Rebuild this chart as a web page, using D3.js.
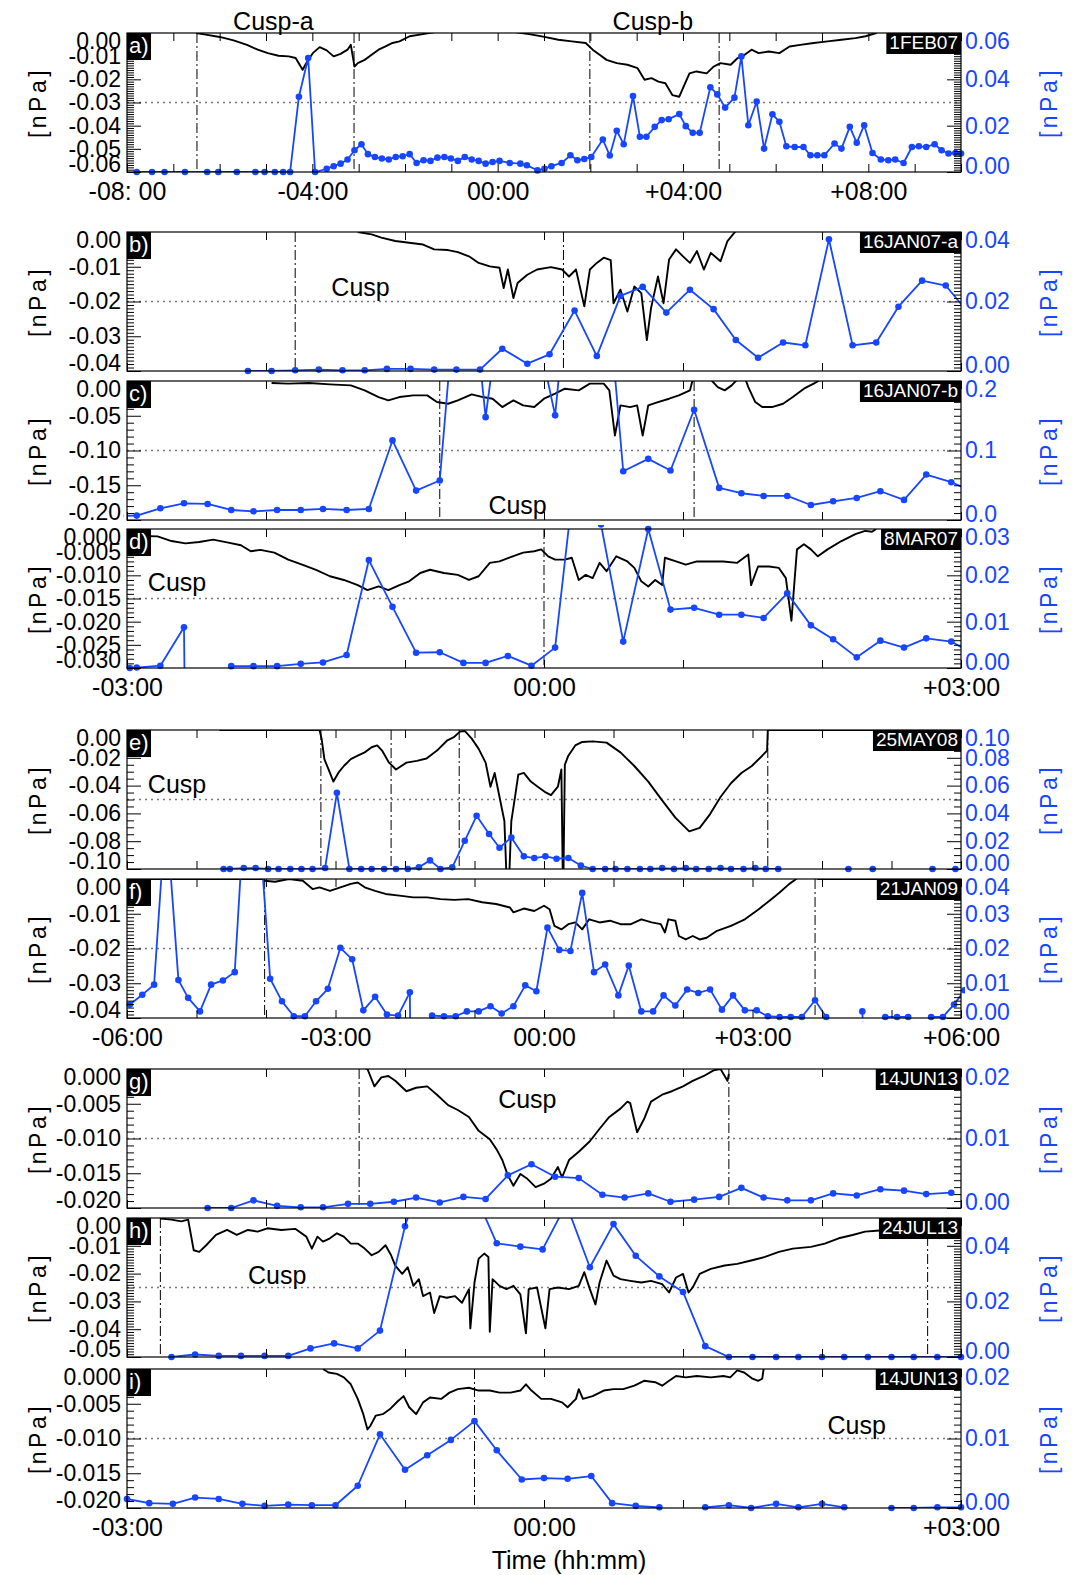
<!DOCTYPE html>
<html>
<head>
<meta charset="utf-8">
<script src="https://cdn.jsdelivr.net/npm/d3@7"></script>
<style>
  body { margin: 0; background: #fff; }
  svg { display: block; font-family: "Liberation Sans", Arial, Helvetica, sans-serif; }
</style>
</head>
<body>
<svg id="chart" width="1081" height="1575"></svg>
<script>
// [time in hours, value in nPa]; null = data gap
var aBlue = [[-7.79,0],[-7.46,0],[-7.19,0],[-6.75,0],[-6.27,0],[-6.03,0],[-5.63,0],[-5.23,0],[-5.03,0],[-4.81,0],[-4.63,0],[-4.48,0],[-4.29,0.0325],[-4.09,0.0492],[-3.94,0],[-3.69,0.0014],[-3.54,0.0025],[-3.39,0.0036],[-3.24,0.0054],[-3.09,0.0094],[-2.94,0.0120],[-2.80,0.0077],[-2.65,0.0065],[-2.50,0.0058],[-2.35,0.0054],[-2.20,0.0065],[-2.05,0.0068],[-1.90,0.0077],[-1.75,0.0039],[-1.60,0.0051],[-1.45,0.0048],[-1.30,0.0062],[-1.15,0.0065],[-1.01,0.0058],[-0.86,0.0048],[-0.71,0.0065],[-0.56,0.0054],[-0.41,0.0048],[-0.26,0.0036],[-0.11,0.0043],[0.04,0.0048],[0.26,0.0039],[0.49,0.0036],[0.63,0.0029],[0.86,0.0007],[1.01,0.0014],[1.16,0.0025],[1.38,0.0039],[1.57,0.0072],[1.72,0.0051],[1.87,0.0056],[2.02,0.0065],[2.27,0.0140],[2.42,0.0071],[2.57,0.0178],[2.72,0.0120],[2.92,0.0328],[3.07,0.0152],[3.21,0.0152],[3.39,0.0195],[3.54,0.0224],[3.69,0.0228],[3.92,0.0250],[4.06,0.0198],[4.21,0.0169],[4.36,0.0169],[4.59,0.0366],[4.74,0.0335],[4.91,0.0278],[5.11,0.0321],[5.26,0.0499],[5.41,0.0202],[5.59,0.0304],[5.75,0.0101],[5.93,0.0249],[6.08,0.0217],[6.23,0.0111],[6.41,0.0108],[6.60,0.0108],[6.75,0.0072],[6.90,0.0072],[7.05,0.0072],[7.27,0.0123],[7.42,0.0101],[7.60,0.0195],[7.75,0.0126],[7.91,0.0202],[8.09,0.0082],[8.27,0.0054],[8.43,0.0051],[8.58,0.0054],[8.76,0.0039],[8.94,0.0108],[9.09,0.0111],[9.25,0.0108],[9.43,0.0120],[9.58,0.0094],[9.73,0.0080],[9.88,0.0082],[10.0,0.0080]];
var aBlack = [[-6.51,0],[-6.30,-0.0007],[-6.00,-0.0017],[-5.70,-0.0032],[-5.41,-0.0051],[-5.18,-0.0072],[-4.96,-0.0087],[-4.73,-0.0098],[-4.51,-0.0101],[-4.36,-0.0108],[-4.21,-0.0159],[-4.11,-0.0123],[-3.99,-0.0087],[-3.84,-0.0061],[-3.69,-0.0075],[-3.54,-0.0101],[-3.39,-0.0090],[-3.24,-0.0072],[-3.17,-0.0051],[-3.09,-0.0145],[-3.02,-0.0130],[-2.87,-0.0116],[-2.72,-0.0094],[-2.57,-0.0072],[-2.42,-0.0058],[-2.27,-0.0043],[-2.12,-0.0036],[-1.90,-0.0014],[-1.68,-0.0007],[-1.38,0.0003],[-1.20,0.002],[0.20,0.002],[0.41,0.0003],[0.71,-0.0006],[1.01,-0.0017],[1.31,-0.0029],[1.60,-0.0036],[1.90,-0.0043],[2.05,-0.0072],[2.20,-0.0094],[2.35,-0.0116],[2.57,-0.0130],[2.80,-0.0137],[3.02,-0.0152],[3.17,-0.0202],[3.32,-0.0195],[3.47,-0.0210],[3.62,-0.0217],[3.77,-0.0268],[3.92,-0.0275],[4.03,-0.0224],[4.14,-0.0174],[4.29,-0.0166],[4.51,-0.0174],[4.66,-0.0145],[4.81,-0.0130],[5.03,-0.0137],[5.18,-0.0108],[5.33,-0.0094],[5.48,-0.0072],[5.63,-0.0087],[5.85,-0.0080],[6.08,-0.0087],[6.30,-0.0058],[6.53,-0.0051],[6.82,-0.0043],[7.12,-0.0036],[7.42,-0.0029],[7.72,-0.0022],[7.94,-0.0014],[8.17,0],[8.25,0.001]];
var aEvents = [-6.49, -3.10, 1.99, 4.78];

var bBlue = [[-2.13,0],[-1.96,0],[-1.79,0.0002],[-1.62,0.0004],[-1.45,0.0002],[-1.29,0.0002],[-1.13,0.0006],[-0.96,0.0006],[-0.79,0.0004],[-0.63,0.0004],[-0.46,0.0004],[-0.30,0.0064],[-0.12,0.0021],[0.04,0.0048],[0.22,0.0174],[0.38,0.0043],[0.55,0.0216],[0.71,0.0242],[0.88,0.0168],[1.05,0.0234],[1.22,0.0178],[1.38,0.0089],[1.54,0.0038],[1.72,0.0082],[1.88,0.0074],[2.05,0.0379],[2.22,0.0074],[2.39,0.0082],[2.55,0.0185],[2.72,0.0260],[2.89,0.0246],[3.06,0.0164]];
var bBlack = [[-1.34,0],[-1.24,-0.0007],[-1.17,-0.0016],[-1.07,-0.0026],[-0.97,-0.0031],[-0.87,-0.0036],[-0.79,-0.0050],[-0.69,-0.0052],[-0.62,-0.0058],[-0.54,-0.0070],[-0.47,-0.0089],[-0.39,-0.0099],[-0.32,-0.0103],[-0.29,-0.0161],[-0.26,-0.0108],[-0.22,-0.0190],[-0.19,-0.0147],[-0.12,-0.0123],[-0.05,-0.0108],[0.05,-0.0101],[0.13,-0.0108],[0.18,-0.0128],[0.23,-0.0108],[0.29,-0.0214],[0.33,-0.0108],[0.38,-0.0089],[0.43,-0.0074],[0.48,-0.0081],[0.50,-0.0205],[0.55,-0.0166],[0.60,-0.0229],[0.65,-0.0157],[0.70,-0.0176],[0.74,-0.0311],[0.77,-0.0219],[0.82,-0.0128],[0.86,-0.0205],[0.90,-0.0079],[0.95,-0.0050],[1.00,-0.0070],[1.05,-0.0089],[1.10,-0.0055],[1.15,-0.0108],[1.20,-0.0060],[1.27,-0.0084],[1.32,-0.0026],[1.37,-0.0002],[1.39,0.0008]];
var bEvents = [-1.79, 0.14];

var cBlue = [[-3.05,0.0060],[-2.93,0.0063],[-2.76,0.0168],[-2.59,0.0240],[-2.42,0.0231],[-2.25,0.0144],[-2.09,0.0125],[-1.92,0.0144],[-1.75,0.0144],[-1.59,0.0159],[-1.42,0.0144],[-1.26,0.0159],[-1.09,0.1145],[-0.92,0.0423],[-0.75,0.0568],[-0.58,0.46],[-0.42,0.148],[-0.26,0.39],[-0.09,0.31],[0.08,0.1506],[0.24,0.48],[0.41,0.44],[0.57,0.0702],[0.75,0.0880],[0.91,0.0712],[1.08,0.1587],[1.26,0.0462],[1.42,0.0385],[1.58,0.0346],[1.75,0.0346],[1.92,0.0216],[2.08,0.0269],[2.25,0.0317],[2.42,0.0414],[2.59,0.0289],[2.75,0.0654],[2.93,0.0544],[3.09,0.040]];
var cBlack = [[-1.96,-0.0029],[-1.84,-0.0038],[-1.69,-0.0029],[-1.54,-0.0048],[-1.39,-0.0063],[-1.29,-0.0135],[-1.19,-0.0231],[-1.12,-0.0279],[-1.04,-0.0231],[-0.94,-0.0207],[-0.84,-0.0207],[-0.77,-0.0303],[-0.69,-0.0327],[-0.62,-0.0279],[-0.52,-0.0192],[-0.44,-0.0231],[-0.37,-0.0255],[-0.30,-0.0375],[-0.22,-0.0279],[-0.15,-0.0351],[-0.07,-0.0375],[0.00,-0.0255],[0.08,-0.0183],[0.15,-0.0111],[0.25,-0.0135],[0.33,-0.0038],[0.43,-0.0038],[0.47,-0.0135],[0.51,-0.0784],[0.55,-0.0351],[0.62,-0.0375],[0.67,-0.0351],[0.71,-0.0784],[0.75,-0.0351],[0.82,-0.0303],[0.90,-0.0255],[0.97,-0.0207],[1.05,-0.0135],[1.07,0.002],[1.20,0.002],[1.25,-0.0087],[1.30,-0.0135],[1.35,-0.0063],[1.39,0.002],[1.45,0.002],[1.47,-0.0087],[1.52,-0.0303],[1.57,-0.0375],[1.64,-0.0375],[1.72,-0.0327],[1.79,-0.0231],[1.87,-0.0111],[1.94,-0.0038],[1.99,0.002]];
var cEvents = [-0.75, 1.08];

var dBlue = [[-2.98,0],[-2.93,0.0001],[-2.76,0.0005],[-2.59,0.0088],[-2.585,-0.005],[-2.4,null],[-2.25,0.0004],[-2.09,0.0004],[-1.92,0.0004],[-1.75,0.0009],[-1.59,0.0012],[-1.42,0.0028],[-1.26,0.0233],[-1.09,0.0132],[-0.92,0.0033],[-0.75,0.0034],[-0.58,0.0011],[-0.42,0.0011],[-0.26,0.0026],[-0.09,0.0005],[0.08,0.0044],[0.24,0.0467],[0.41,0.031],[0.57,0.0057],[0.75,0.030],[0.91,0.0126],[1.08,0.0130],[1.26,0.0115],[1.42,0.0115],[1.58,0.0108],[1.75,0.0161],[1.92,0.0092],[2.08,0.0062],[2.25,0.0023],[2.42,0.0059],[2.59,0.0044],[2.75,0.0064],[2.93,0.0057],[3.09,0.0030]];
var dBlack = [[-2.98,-0.0011],[-2.88,-0.0015],[-2.78,-0.0016],[-2.68,-0.0026],[-2.58,-0.0031],[-2.48,-0.0028],[-2.38,-0.0023],[-2.28,-0.0029],[-2.18,-0.0035],[-2.11,-0.0048],[-2.04,-0.0045],[-1.94,-0.0051],[-1.84,-0.0066],[-1.74,-0.0077],[-1.64,-0.0088],[-1.54,-0.0102],[-1.44,-0.0110],[-1.34,-0.0121],[-1.27,-0.0132],[-1.19,-0.0124],[-1.12,-0.0132],[-1.04,-0.0121],[-0.97,-0.0113],[-0.89,-0.0095],[-0.82,-0.0088],[-0.72,-0.0095],[-0.62,-0.0099],[-0.54,-0.0110],[-0.47,-0.0102],[-0.39,-0.0073],[-0.32,-0.0070],[-0.25,-0.0062],[-0.15,-0.0051],[-0.07,-0.0048],[-0.02,-0.0044],[0.03,-0.0059],[0.08,-0.0066],[0.15,-0.0066],[0.20,-0.0062],[0.25,-0.0110],[0.30,-0.0099],[0.35,-0.0106],[0.40,-0.0073],[0.45,-0.0091],[0.52,-0.0059],[0.60,-0.0070],[0.65,-0.0084],[0.70,-0.0113],[0.75,-0.0124],[0.80,-0.0110],[0.85,-0.0121],[0.87,-0.0062],[0.95,-0.0070],[1.02,-0.0077],[1.10,-0.0070],[1.20,-0.0070],[1.29,-0.0070],[1.39,-0.0073],[1.47,-0.0055],[1.49,-0.0121],[1.54,-0.0081],[1.62,-0.0081],[1.69,-0.0084],[1.74,-0.0106],[1.78,-0.0198],[1.82,-0.0044],[1.87,-0.0033],[1.92,-0.0044],[1.97,-0.0059],[2.04,-0.0044],[2.14,-0.0026],[2.24,-0.0011],[2.31,-0.0004],[2.36,-0.0006],[2.39,0]];
var dEvents = [0.0];

var eBlue = [[-4.61,0],[-4.52,0],[-4.32,0.0007],[-4.15,0.0007],[-3.97,0],[-3.82,0],[-3.65,0],[-3.49,0],[-3.33,0],[-3.15,0.0007],[-2.98,0.0548],[-2.80,0],[-2.63,0],[-2.48,0],[-2.30,0],[-2.13,0],[-1.96,0],[-1.80,0.0012],[-1.64,0.0062],[-1.49,0],[-1.32,0.0012],[-1.14,0.0203],[-0.97,0.0383],[-0.79,0.0252],[-0.64,0.0153],[-0.47,0.0227],[-0.29,0.0091],[-0.14,0.0079],[0.02,0.0091],[0.18,0.0074],[0.35,0.0079],[0.53,0.0025],[0.70,0],[0.88,0],[1.03,0],[1.20,0],[1.38,0],[1.53,0],[1.70,0.0007],[1.87,0],[2.04,0.0007],[2.19,0],[2.37,0],[2.54,0.0007],[2.69,0],[2.87,0],[3.04,0.0007],[3.19,0],[3.37,0],[3.6,null],[4.38,0],[4.5,null],[4.73,0],[5.0,null],[5.59,0],[5.75,null],[5.92,0]];
var eBlack = [[-4.67,0],[-3.23,0],[-3.20,-0.0062],[-3.16,-0.0210],[-3.10,-0.0284],[-3.03,-0.0371],[-2.96,-0.0309],[-2.88,-0.0259],[-2.78,-0.0210],[-2.68,-0.0185],[-2.58,-0.0161],[-2.48,-0.0124],[-2.40,-0.0111],[-2.33,-0.0148],[-2.23,-0.0235],[-2.13,-0.0284],[-1.98,-0.0235],[-1.83,-0.0222],[-1.69,-0.0205],[-1.54,-0.0148],[-1.39,-0.0074],[-1.29,-0.0049],[-1.21,-0.0012],[-1.14,-0.0007],[-1.04,-0.0062],[-0.94,-0.0136],[-0.84,-0.0235],[-0.77,-0.0408],[-0.71,-0.0309],[-0.64,-0.0482],[-0.57,-0.0655],[-0.54,-0.105],[-0.50,-0.105],[-0.47,-0.0655],[-0.41,-0.0457],[-0.37,-0.0321],[-0.29,-0.0309],[-0.19,-0.0371],[-0.09,-0.0408],[0.01,-0.0445],[0.10,-0.0469],[0.20,-0.0408],[0.25,-0.0284],[0.27,-0.105],[0.28,-0.105],[0.30,-0.0250],[0.35,-0.0185],[0.45,-0.0111],[0.55,-0.0086],[0.70,-0.0082],[0.90,-0.0091],[1.10,-0.0161],[1.30,-0.0259],[1.50,-0.0371],[1.70,-0.0506],[1.89,-0.0630],[2.09,-0.0729],[2.24,-0.0704],[2.39,-0.0605],[2.54,-0.0482],[2.69,-0.0383],[2.84,-0.0309],[2.99,-0.0259],[3.14,-0.0185],[3.21,-0.0148],[3.22,0],[6.0,0]];
var eEvents = [-3.21, -2.20, -1.22, 3.22];

var fBlue = [[-5.96,0.0039],[-5.78,0.0067],[-5.61,0.0096],[-5.44,0.06],[-5.26,0.0109],[-5.12,0.0058],[-4.95,0.0019],[-4.79,0.0096],[-4.62,0.0108],[-4.45,0.0132],[-4.22,0.09],[-3.94,0.0113],[-3.77,0.0048],[-3.60,0.0005],[-3.44,0.0005],[-3.28,0.0048],[-3.11,0.0084],[-2.93,0.0202],[-2.76,0.0169],[-2.60,0.0022],[-2.43,0.0061],[-2.26,0.0010],[-2.10,0.0007],[-1.93,0.0074],[-1.925,-0.005],[-1.8,null],[-1.61,0.0007],[-1.44,0.0005],[-1.27,0.0005],[-1.11,0.0019],[-0.94,0.0019],[-0.77,0.0034],[-0.61,0.0013],[-0.44,0.0034],[-0.27,0.0094],[-0.11,0.0077],[0.05,0.0260],[0.22,0.0196],[0.38,0.0193],[0.55,0.0360],[0.72,0.0132],[0.88,0.0154],[1.07,0.0065],[1.22,0.0151],[1.40,0.0019],[1.57,0.0019],[1.72,0.0065],[1.89,0.0036],[2.06,0.0082],[2.22,0.0072],[2.39,0.0082],[2.56,0.0024],[2.72,0.0065],[2.89,0.0022],[3.06,0.0022],[3.22,0.0005],[3.39,0.0003],[3.55,0.0003],[3.71,0.0003],[3.90,0.0051],[4.06,0.0003],[4.3,null],[4.58,0.0019],[4.59,-0.002],[4.7,null],[4.91,0.0003],[5.08,0.0003],[5.24,0.0003],[5.4,null],[5.57,0.0003],[5.74,0.0003],[5.90,0.0039],[6.05,0.008]];
var fBlack = [[-6.0,0],[-4.03,0],[-4.02,-0.0005],[-3.87,-0.0008],[-3.67,0],[-3.47,-0.0005],[-3.33,-0.0029],[-3.23,-0.0024],[-3.08,-0.0034],[-2.93,-0.0024],[-2.78,-0.0014],[-2.68,-0.0010],[-2.58,-0.0024],[-2.43,-0.0034],[-2.28,-0.0043],[-2.08,-0.0048],[-1.88,-0.0053],[-1.68,-0.0053],[-1.49,-0.0058],[-1.29,-0.0060],[-1.09,-0.0058],[-0.89,-0.0067],[-0.69,-0.0072],[-0.49,-0.0082],[-0.44,-0.0096],[-0.29,-0.0085],[-0.14,-0.0092],[0.00,-0.0077],[0.08,-0.0087],[0.15,-0.0135],[0.25,-0.0145],[0.35,-0.0130],[0.45,-0.0125],[0.55,-0.0145],[0.65,-0.0116],[0.80,-0.0125],[0.95,-0.0120],[1.10,-0.0130],[1.25,-0.0130],[1.40,-0.0116],[1.55,-0.0125],[1.68,-0.0130],[1.74,-0.0154],[1.79,-0.0116],[1.89,-0.0120],[1.94,-0.0164],[2.04,-0.0174],[2.14,-0.0164],[2.24,-0.0174],[2.34,-0.0169],[2.49,-0.0149],[2.69,-0.0135],[2.89,-0.0116],[3.09,-0.0087],[3.24,-0.0063],[3.39,-0.0039],[3.53,-0.0014],[3.63,0],[3.70,0.002],[3.92,0.002],[3.94,0],[6.0,0]];
var fEvents = [-4.02, 3.90];

var gBlue = [[-2.42,0],[-2.25,0],[-2.09,0.0011],[-1.92,0.0003],[-1.75,0.0001],[-1.59,0.0001],[-1.41,0.0006],[-1.25,0.0006],[-1.08,0.0009],[-0.92,0.0015],[-0.75,0.0008],[-0.58,0.0016],[-0.42,0.0013],[-0.26,0.0047],[-0.09,0.0063],[0.08,0.0045],[0.25,0.0043],[0.42,0.0019],[0.58,0.0015],[0.75,0.0021],[0.91,0.0009],[1.08,0.0012],[1.26,0.0016],[1.42,0.0029],[1.58,0.0015],[1.75,0.0011],[1.92,0.0011],[2.08,0.0021],[2.25,0.0018],[2.42,0.0027],[2.59,0.0025],[2.75,0.0020],[2.93,0.0022]];
var gBlack = [[-1.30,0.0002],[-1.27,0],[-1.22,-0.0025],[-1.17,-0.0012],[-1.12,-0.0010],[-1.07,-0.0017],[-0.99,-0.0032],[-0.92,-0.0027],[-0.84,-0.0025],[-0.77,-0.0037],[-0.69,-0.0052],[-0.62,-0.0059],[-0.54,-0.0069],[-0.47,-0.0089],[-0.39,-0.0101],[-0.34,-0.0116],[-0.30,-0.0131],[-0.26,-0.0153],[-0.22,-0.0168],[-0.17,-0.0151],[-0.12,-0.0158],[-0.06,-0.0170],[0.00,-0.0165],[0.05,-0.0158],[0.10,-0.0141],[0.13,-0.0156],[0.18,-0.0131],[0.25,-0.0119],[0.33,-0.0104],[0.40,-0.0086],[0.47,-0.0069],[0.55,-0.0057],[0.60,-0.0047],[0.62,-0.0049],[0.67,-0.0091],[0.72,-0.0072],[0.77,-0.0047],[0.85,-0.0037],[0.92,-0.0032],[1.00,-0.0025],[1.07,-0.0017],[1.15,-0.0010],[1.22,-0.0002],[1.27,0],[1.32,-0.0017],[1.33,-0.0007]];
var gEvents = [-1.33, 1.33];

var hBlue = [[-2.68,0],[-2.51,0.0009],[-2.34,0.0004],[-2.18,0.0004],[-2.01,0.0004],[-1.84,0.0004],[-1.68,0.0031],[-1.51,0.0049],[-1.34,0.0031],[-1.18,0.0095],[-1.00,0.0470],[-0.83,0.073],[-0.67,0.07],[-0.50,0.059],[-0.34,0.0409],[-0.17,0.0397],[-0.01,0.0387],[0.16,0.055],[0.33,0.0323],[0.50,0.0478],[0.66,0.0364],[0.83,0.0290],[1.00,0.0234],[1.16,0.0039],[1.33,0],[1.50,0],[1.67,0],[1.83,0],[2.00,0],[2.16,0],[2.33,0],[2.50,0],[2.66,0],[2.83,0],[3.0,0]];
var hBlack = [[-2.76,-0.0002],[-2.68,-0.0006],[-2.61,-0.0012],[-2.56,-0.0006],[-2.52,-0.0116],[-2.48,-0.0122],[-2.43,-0.0098],[-2.36,-0.0061],[-2.28,-0.0043],[-2.21,-0.0061],[-2.13,-0.0043],[-2.06,-0.0049],[-1.99,-0.0037],[-1.89,-0.0043],[-1.79,-0.0039],[-1.71,-0.0067],[-1.67,-0.0110],[-1.63,-0.0067],[-1.59,-0.0085],[-1.54,-0.0073],[-1.49,-0.0055],[-1.44,-0.0067],[-1.39,-0.0092],[-1.34,-0.0092],[-1.29,-0.0110],[-1.24,-0.0134],[-1.19,-0.0122],[-1.14,-0.0098],[-1.10,-0.0134],[-1.07,-0.0171],[-1.02,-0.0201],[-0.98,-0.0177],[-0.94,-0.0244],[-0.90,-0.0220],[-0.87,-0.0281],[-0.82,-0.0268],[-0.79,-0.0342],[-0.75,-0.0281],[-0.70,-0.0287],[-0.64,-0.0281],[-0.59,-0.0305],[-0.54,-0.0256],[-0.53,-0.0397],[-0.50,-0.0232],[-0.47,-0.0146],[-0.43,-0.0128],[-0.40,-0.0140],[-0.39,-0.0409],[-0.37,-0.0220],[-0.32,-0.0244],[-0.27,-0.0256],[-0.22,-0.0244],[-0.17,-0.0275],[-0.13,-0.0415],[-0.11,-0.0256],[-0.05,-0.0250],[0.01,-0.0397],[0.04,-0.0256],[0.10,-0.0250],[0.18,-0.0256],[0.25,-0.0244],[0.29,-0.0195],[0.33,-0.0256],[0.37,-0.0311],[0.40,-0.0232],[0.45,-0.0153],[0.50,-0.0207],[0.55,-0.0220],[0.62,-0.0226],[0.70,-0.0232],[0.77,-0.0226],[0.85,-0.0238],[0.90,-0.0268],[0.95,-0.0214],[1.00,-0.0201],[1.04,-0.0268],[1.07,-0.0250],[1.12,-0.0201],[1.20,-0.0183],[1.30,-0.0171],[1.39,-0.0165],[1.49,-0.0153],[1.59,-0.0140],[1.69,-0.0122],[1.79,-0.0110],[1.92,-0.0104],[2.02,-0.0092],[2.12,-0.0073],[2.22,-0.0061],[2.31,-0.0049],[2.39,-0.0046],[2.46,-0.0043]];
var hEvents = [-2.76, 2.76];

var iBlue = [[-3.0,0.0013],[-2.84,0.0007],[-2.67,0.0006],[-2.51,0.0015],[-2.34,0.0013],[-2.17,0.0006],[-2.01,0.0003],[-1.84,0.0005],[-1.67,0.0004],[-1.50,0.0004],[-1.34,0.0032],[-1.18,0.0106],[-1.00,0.0055],[-0.84,0.0076],[-0.67,0.0098],[-0.50,0.0125],[-0.34,0.0083],[-0.16,0.0041],[0.00,0.0043],[0.17,0.0042],[0.34,0.0046],[0.49,0.0007],[0.66,0.0003],[0.83,0.0001],[1.0,null],[1.16,0.0001],[1.33,0.0004],[1.49,0],[1.67,0.0006],[1.83,0.0001],[2.00,0.0006],[2.16,0.0001],[2.33,null],[2.50,0],[2.66,0],[2.83,0.0001],[3.0,0.0001]];
var iBlack = [[-1.59,0],[-1.55,-0.0005],[-1.49,-0.0007],[-1.44,-0.0012],[-1.39,-0.0022],[-1.34,-0.0043],[-1.30,-0.0065],[-1.27,-0.0087],[-1.25,-0.0082],[-1.21,-0.0067],[-1.16,-0.0065],[-1.11,-0.0058],[-1.05,-0.0046],[-1.01,-0.0039],[-0.97,-0.0055],[-0.92,-0.0065],[-0.87,-0.0048],[-0.82,-0.0041],[-0.74,-0.0043],[-0.68,-0.0034],[-0.62,-0.0029],[-0.54,-0.0027],[-0.47,-0.0031],[-0.39,-0.0031],[-0.32,-0.0034],[-0.24,-0.0034],[-0.17,-0.0031],[-0.13,-0.0022],[-0.09,-0.0031],[-0.02,-0.0043],[0.05,-0.0043],[0.13,-0.0048],[0.17,-0.0055],[0.23,-0.0043],[0.25,-0.0029],[0.28,-0.0043],[0.35,-0.0039],[0.43,-0.0031],[0.50,-0.0029],[0.57,-0.0029],[0.65,-0.0024],[0.72,-0.0017],[0.80,-0.0019],[0.85,-0.0024],[0.90,-0.0017],[0.95,-0.0010],[1.02,-0.0012],[1.10,-0.0010],[1.20,-0.0012],[1.29,-0.0010],[1.34,-0.0012],[1.39,-0.0002],[1.44,-0.0005],[1.50,-0.0014],[1.54,-0.0017],[1.57,-0.0014],[1.58,0]];
var iEvents = [-0.50];

// "Cusp" annotations [time, left-axis value]
var cuspLabels = { b: [-1.32, -0.0157], c: [-0.19, -0.178], d: [-2.64, -0.0115], e: [-5.28, -0.0388], g: [-0.12, -0.0043], h: [-1.92, -0.0204], i: [2.25, -0.0081] };
var topLabels = [["Cusp-a", -4.84], ["Cusp-b", 3.35]];
var dateLabels = ["1FEB07", "16JAN07-a", "16JAN07-b", "8MAR07", "25MAY08", "21JAN09", "14JUN13", "24JUL13", "14JUN13"];

var svg = d3.select("#chart");
var L = 127, R = 961, H = 139;
var BLUE = "#1646ff";
var loc = d3.formatLocale({decimal: ".", thousands: ",", grouping: [3], currency: ["", ""], minus: "-"});

var panels = [
    {k:"a", top:33,   xDom:[-8,10], xLab:[-8,-4,0,4,8], yL:[-0.06,0], yLs:0.01,  yLm:0.001, yLd:2, yR:[0,0.06], yRs:0.02, yRm:0.001, yRd:2, black:aBlack, blue:aBlue, ev:aEvents},
    {k:"b", top:232,  xDom:[-3,3],  xLab:null,          yL:[-0.04,0], yLs:0.01,  yLm:0.001, yLd:2, yR:[0,0.04], yRs:0.02, yRm:0.001, yRd:2, black:bBlack, blue:bBlue, ev:bEvents},
    {k:"c", top:381,  xDom:[-3,3],  xLab:null,          yL:[-0.2,0],  yLs:0.05,  yLm:0.01,  yLd:2, yR:[0,0.2],  yRs:0.1,  yRm:0.01,  yRd:1, black:cBlack, blue:cBlue, ev:cEvents},
    {k:"d", top:529,  xDom:[-3,3],  xLab:[-3,0,3],      yL:[-0.03,0], yLs:0.005, yLm:0.001, yLd:3, yR:[0,0.03], yRs:0.01, yRm:0.001, yRd:2, black:dBlack, blue:dBlue, ev:dEvents},
    {k:"e", top:730,  xDom:[-6,6],  xLab:null,          yL:[-0.1,0],  yLs:0.02,  yLm:0.005, yLd:2, yR:[0,0.1],  yRs:0.02, yRm:0.005, yRd:2, black:eBlack, blue:eBlue, ev:eEvents},
    {k:"f", top:879,  xDom:[-6,6],  xLab:[-6,-3,0,3,6], yL:[-0.04,0], yLs:0.01,  yLm:0.001, yLd:2, yR:[0,0.04], yRs:0.01, yRm:0.001, yRd:2, black:fBlack, blue:fBlue, ev:fEvents},
    {k:"g", top:1069, xDom:[-3,3],  xLab:null,          yL:[-0.02,0], yLs:0.005, yLm:0.001, yLd:3, yR:[0,0.02], yRs:0.01, yRm:0.001, yRd:2, black:gBlack, blue:gBlue, ev:gEvents},
    {k:"h", top:1218, xDom:[-3,3],  xLab:null,          yL:[-0.05,0], yLs:0.01,  yLm:0.001, yLd:2, yR:[0,0.05], yRs:0.02, yRm:0.001, yRd:2, black:hBlack, blue:hBlue, ev:hEvents},
    {k:"i", top:1369, xDom:[-3,3],  xLab:[-3,0,3],      yL:[-0.02,0], yLs:0.005, yLm:0.001, yLd:3, yR:[0,0.02], yRs:0.01, yRm:0.001, yRd:2, black:iBlack, blue:iBlue, ev:iEvents}
];

function steps(dom, step) {
    var n = Math.round((dom[1] - dom[0]) / step);
    return d3.range(n + 1).map(function(i) { return +(dom[0] + i * step).toFixed(6) + 0; });
}

function hhmm(t) {
    if (t === -8) return "-08: 00";
    var s = t < 0 ? "-" : t > 0 ? "+" : "";
    return s + String(Math.abs(t)).padStart(2, "0") + ":00";
}

var defs = svg.append("defs");

panels.forEach(function(p, idx) {
    var top = p.top, bot = p.top + H;
    var x = d3.scaleLinear().domain(p.xDom).range([L, R]);
    var yl = d3.scaleLinear().domain(p.yL).range([bot, top]);
    var yr = d3.scaleLinear().domain(p.yR).range([bot, top]);
    var g = svg.append("g").attr("class", "panel-" + p.k);

    defs.append("clipPath").attr("id", "clip-" + p.k)
        .append("rect").attr("x", L).attr("y", top).attr("width", R - L).attr("height", H);
    defs.append("clipPath").attr("id", "clipd-" + p.k)
        .append("rect").attr("x", L - 4).attr("y", top - 4).attr("width", R - L + 8).attr("height", H + 8);

    // dotted mid line
    var mid = (p.yL[0] + p.yL[1]) / 2;
    g.append("line")
        .attr("x1", L).attr("x2", R).attr("y1", yl(mid)).attr("y2", yl(mid))
        .attr("stroke", "#777").attr("stroke-width", 1.3).attr("stroke-dasharray", "2,4");

    // cusp boundaries
    g.selectAll(".ev").data(p.ev).enter().append("line")
        .attr("x1", x).attr("x2", x).attr("y1", top).attr("y2", bot)
        .attr("stroke", "#000").attr("stroke-width", 1).attr("stroke-dasharray", "10,3,2,3");

    // black series (left axis)
    var blackLine = d3.line()
        .defined(function(d) { return d[1] !== null; })
        .x(function(d) { return x(d[0]); })
        .y(function(d) { return yl(d[1]); });
    g.append("path").datum(p.black)
        .attr("clip-path", "url(#clip-" + p.k + ")")
        .attr("d", blackLine)
        .attr("fill", "none").attr("stroke", "#000").attr("stroke-width", 1.9).attr("stroke-linejoin", "round");

    // blue series (right axis)
    var blueLine = d3.line()
        .defined(function(d) { return d[1] !== null; })
        .x(function(d) { return x(d[0]); })
        .y(function(d) { return yr(d[1]); });
    g.append("path").datum(p.blue)
        .attr("clip-path", "url(#clip-" + p.k + ")")
        .attr("d", blueLine)
        .attr("fill", "none").attr("stroke", BLUE).attr("stroke-width", 1.8).attr("stroke-linejoin", "round");
    g.append("g").attr("clip-path", "url(#clipd-" + p.k + ")")
        .selectAll("circle").data(p.blue.filter(function(d) { return d[1] !== null; }))
        .enter().append("circle")
        .attr("cx", function(d) { return x(d[0]); })
        .attr("cy", function(d) { return yr(d[1]); })
        .attr("r", 3.3).attr("fill", BLUE);

    // frame
    g.append("rect").attr("x", L).attr("y", top).attr("width", R - L).attr("height", H)
        .attr("fill", "none").attr("stroke", "#000").attr("stroke-width", 1.2);

    // x axes, ticks every hour pointing in
    var hours = d3.range(p.xDom[0], p.xDom[1] + 1);
    var bottomAxis = d3.axisBottom(x).tickValues(hours).tickSize(-8).tickPadding(10)
        .tickFormat(function(d) { return p.xLab && p.xLab.indexOf(d) >= 0 ? hhmm(d) : ""; });
    var bx = g.append("g").attr("transform", "translate(0," + bot + ")").call(bottomAxis);
    bx.select(".domain").remove();
    bx.attr("font-size", 25).attr("font-family", null);
    g.append("g").attr("transform", "translate(0," + top + ")")
        .call(d3.axisTop(x).tickValues(hours).tickSize(-8).tickFormat(""))
        .select(".domain").remove();

    // left axis
    var fl = loc.format("." + p.yLd + "f");
    var lMajor = steps(p.yL, p.yLs);
    var lMinor = steps(p.yL, p.yLm).filter(function(v) { return lMajor.indexOf(v) < 0; });
    var lx = g.append("g").attr("transform", "translate(" + L + ",0)")
        .call(d3.axisLeft(yl).tickValues(lMajor).tickSize(-14).tickPadding(6).tickFormat(fl));
    lx.select(".domain").remove();
    lx.attr("font-size", 23).attr("font-family", null);
    lx.selectAll(".tick text").attr("y", function(d) {
        var y0 = yl(d);
        return Math.max(top + 8, Math.min(bot - 8, y0)) - y0;
    });
    g.append("g").attr("transform", "translate(" + L + ",0)")
        .call(d3.axisLeft(yl).tickValues(lMinor).tickSize(-7).tickFormat(""))
        .select(".domain").remove();

    // right axis
    var fr = loc.format("." + p.yRd + "f");
    var rMajor = steps(p.yR, p.yRs).filter(function(v) { return v <= p.yR[1] + 1e-9; });
    var rMinor = steps(p.yR, p.yRm).filter(function(v) { return rMajor.indexOf(v) < 0; });
    var rx = g.append("g").attr("transform", "translate(" + R + ",0)")
        .call(d3.axisRight(yr).tickValues(rMajor).tickSize(-14).tickPadding(4).tickFormat(fr));
    rx.select(".domain").remove();
    rx.attr("font-size", 23).attr("font-family", null);
    rx.selectAll(".tick line").attr("stroke", "#000");
    rx.selectAll(".tick text").attr("fill", BLUE).attr("y", function(d) {
        var y0 = yr(d);
        return Math.max(top + 8, Math.min(bot - 6, y0)) - y0;
    });
    g.append("g").attr("transform", "translate(" + R + ",0)")
        .call(d3.axisRight(yr).tickValues(rMinor).tickSize(-7).tickFormat(""))
        .select(".domain").remove();

    // [nPa] unit labels
    var ym = (top + bot) / 2;
    g.append("text").attr("transform", "translate(38," + ym + ") rotate(-90)")
        .attr("text-anchor", "middle").attr("dominant-baseline", "central")
        .attr("font-size", 23).attr("letter-spacing", 3.5).text("[nPa]");
    g.append("text").attr("transform", "translate(1049," + ym + ") rotate(-90)")
        .attr("text-anchor", "middle").attr("dominant-baseline", "central")
        .attr("fill", BLUE).attr("font-size", 23).attr("letter-spacing", 3.5).text("[nPa]");

    // panel letter
    g.append("rect").attr("x", L).attr("y", top).attr("width", 24).attr("height", 27).attr("fill", "#000");
    g.append("text").attr("x", L + 2).attr("y", top + 20).attr("fill", "#fff").attr("font-size", 22).text(p.k + ")");

    // date box
    var dt = g.append("text").attr("y", top + 16).attr("fill", "#fff").attr("font-size", 19).text(dateLabels[idx]);
    var w = dt.node().getComputedTextLength();
    g.insert("rect", function() { return dt.node(); })
        .attr("x", R - w - 6).attr("y", top).attr("width", w + 6).attr("height", 21).attr("fill", "#000");
    dt.attr("x", R - w - 3);

    // "Cusp" annotation
    var c = cuspLabels[p.k];
    if (c) {
        g.append("text").attr("x", x(c[0])).attr("y", yl(c[1]))
            .attr("text-anchor", "middle").attr("dominant-baseline", "central")
            .attr("font-size", 25).text("Cusp");
    }

    if (p.k === "a") {
        g.selectAll(".toplab").data(topLabels).enter().append("text")
            .attr("x", function(d) { return x(d[1]); }).attr("y", 21)
            .attr("text-anchor", "middle").attr("dominant-baseline", "central")
            .attr("font-size", 25).text(function(d) { return d[0]; });
    }
});

svg.append("text").attr("x", 569).attr("y", 1560)
    .attr("text-anchor", "middle").attr("dominant-baseline", "central")
    .attr("font-size", 25).text("Time (hh:mm)");
</script>
</body>
</html>
